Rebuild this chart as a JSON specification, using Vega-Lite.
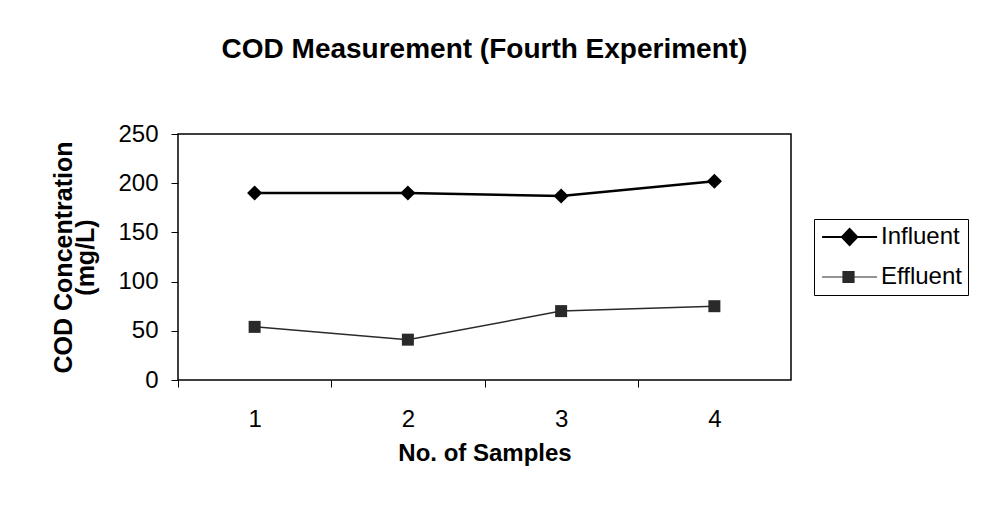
{
  "$schema": "https://vega.github.io/schema/vega-lite/v6.json",
  "autosize": "none",
  "width": 613,
  "height": 246,
  "padding": {"left": 178, "top": 134, "right": 193, "bottom": 130},
  "background": "white",
  "config": {
    "font": "Liberation Sans",
    "view": {"stroke": "black", "strokeWidth": 1.5},
    "axis": {"domainColor": "black", "tickColor": "black", "labelColor": "black", "titleColor": "black", "grid": false}
  },
  "title": {
    "text": "COD Measurement (Fourth Experiment)",
    "font": "Liberation Sans",
    "fontSize": 28,
    "fontWeight": "bold",
    "color": "black",
    "anchor": "middle",
    "offset": 58
  },
  "data": {
    "values": [
      {"sample": "1", "series": "Influent", "cod": 190},
      {"sample": "2", "series": "Influent", "cod": 190},
      {"sample": "3", "series": "Influent", "cod": 187},
      {"sample": "4", "series": "Influent", "cod": 202},
      {"sample": "1", "series": "Effluent", "cod": 54},
      {"sample": "2", "series": "Effluent", "cod": 41},
      {"sample": "3", "series": "Effluent", "cod": 70},
      {"sample": "4", "series": "Effluent", "cod": 75}
    ]
  },
  "encoding": {
    "x": {
      "field": "sample",
      "type": "ordinal",
      "scale": {"type": "point", "padding": 0.5},
      "axis": {
        "title": "No. of Samples",
        "labelAngle": 0,
        "labelFontSize": 24,
        "titleFontSize": 24,
        "titleFontWeight": "bold",
        "tickSize": 7,
        "tickOffset": -76.6,
        "labelOffset": 76.6,
        "labelPadding": 20,
        "titlePadding": 10,
        "domain": false
      }
    },
    "y": {
      "field": "cod",
      "type": "quantitative",
      "scale": {"domain": [0, 250]},
      "axis": {
        "title": ["COD Concentration", "(mg/L)"],
        "values": [0, 50, 100, 150, 200, 250],
        "labelFontSize": 24,
        "titleFontSize": 25,
        "titleFontWeight": "bold",
        "titleLineHeight": 22,
        "tickSize": 7,
        "labelPadding": 13,
        "titlePadding": 19,
        "domain": false
      }
    },
    "color": {
      "field": "series",
      "type": "nominal",
      "scale": {"domain": ["Influent", "Effluent"], "range": ["#000000", "#2a2a2a"]},
      "legend": {
        "title": null,
        "orient": "none",
        "legendX": 636,
        "legendY": 85,
        "padding": 6,
        "strokeColor": "black",
        "fillColor": "white",
        "labelFontSize": 24,
        "labelColor": "black",
        "labelOffset": 37,
        "symbolSize": 3025,
        "clipHeight": 24,
        "rowPadding": 16,
        "encode": {
          "symbols": {
            "update": {
              "shape": {"signal": "datum.value === 'Influent' ? 'M-0.36,0L1.64,0M0.64,-0.29L0.92,0L0.64,0.29L0.36,0Z' : 'M-0.36,0L1.64,0M0.4,-0.2L0.8,-0.2L0.8,0.2L0.4,0.2Z'"},
              "size": {"value": 3025},
              "fill": {"signal": "datum.value === 'Influent' ? '#000000' : '#2a2a2a'"},
              "stroke": {"value": "black"},
              "strokeWidth": {"signal": "datum.value === 'Influent' ? 2 : 1.2"},
              "opacity": {"value": 1},
              "fillOpacity": {"value": 1}
            }
          }
        }
      }
    }
  },
  "layer": [
    {
      "mark": {"type": "line"},
      "encoding": {
        "strokeWidth": {
          "field": "series",
          "type": "nominal",
          "scale": {"domain": ["Effluent", "Influent"], "range": [1.5, 2.5]},
          "legend": null
        }
      }
    },
    {
      "mark": {"type": "point", "filled": true, "opacity": 1},
      "encoding": {
        "shape": {
          "field": "series",
          "type": "nominal",
          "scale": {"domain": ["Effluent", "Influent"], "range": ["square", "diamond"]},
          "legend": null
        },
        "size": {
          "field": "series",
          "type": "nominal",
          "scale": {"domain": ["Effluent", "Influent"], "range": [144, 230]},
          "legend": null
        }
      }
    }
  ]
}
